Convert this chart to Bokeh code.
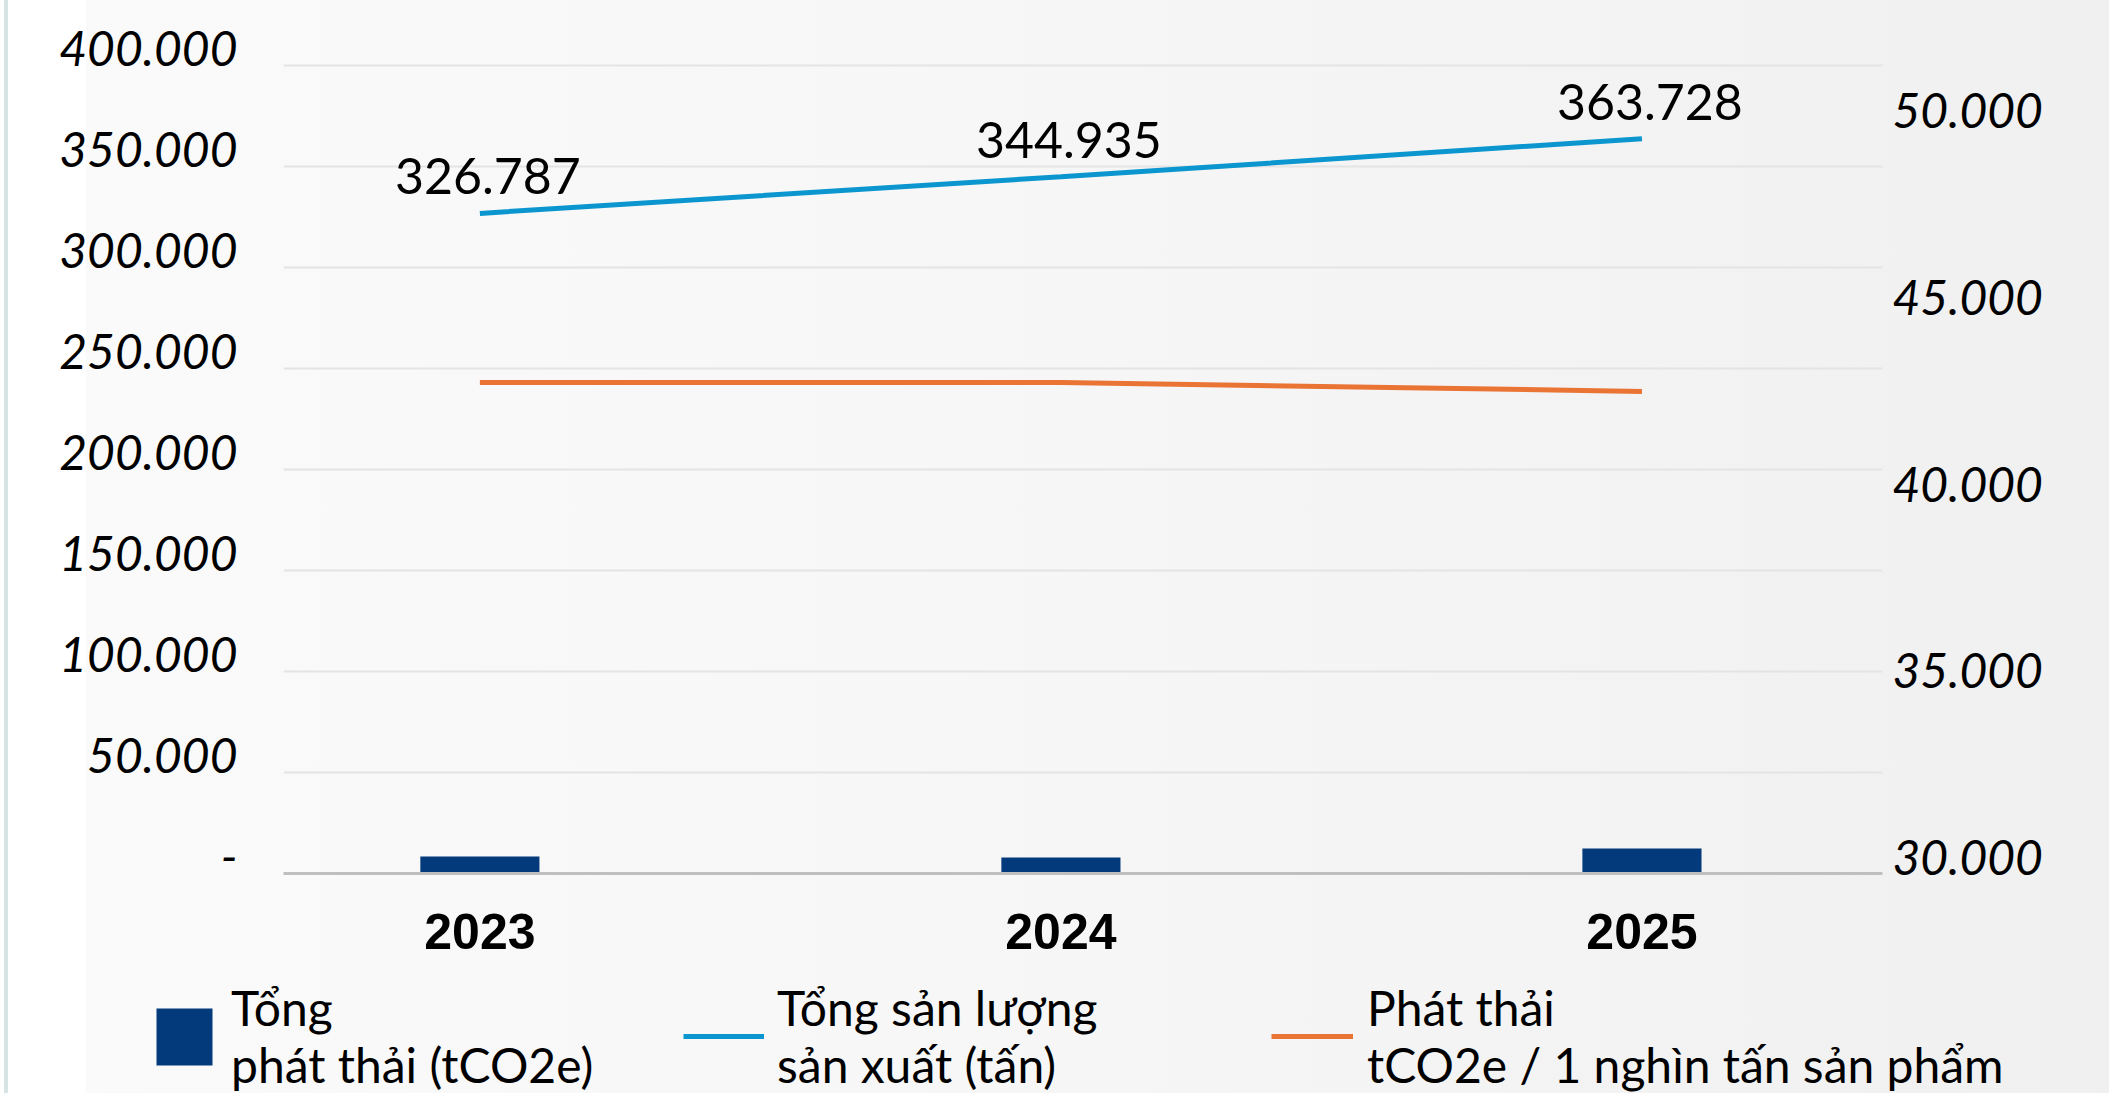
from bokeh.plotting import figure
from bokeh.layouts import column
from bokeh.models import (Range1d, LinearAxis, FixedTicker, Legend, LegendItem,
                          ColumnDataSource)
from bokeh.core.properties import value
from bokeh.embed import file_html
from bokeh.resources import INLINE

# ---------------- data ----------------
years = ["2023", "2024", "2025"]
total_emissions = [8400, 7900, 12400]            # Tổng phát thải (tCO2e) - left axis, bars
production = [326787, 344935, 363728]            # Tổng sản lượng sản xuất (tấn) - left axis
production_labels = ["326.787", "344.935", "363.728"]
intensity = [42720, 42720, 42480]                # tCO2e / 1 nghìn tấn sản phẩm - right axis

left_ticks = [0, 50000, 100000, 150000, 200000, 250000, 300000, 350000, 400000]
left_tick_labels = ["-", "50.000", "100.000", "150.000", "200.000",
                    "250.000", "300.000", "350.000", "400.000"]
right_ticks = [30000, 35000, 40000, 45000, 50000]
right_tick_labels = ["30.000", "35.000", "40.000", "45.000", "50.000"]

legend_bar = "Tổng\nphát thải (tCO2e)"
legend_prod = "Tổng sản lượng\nsản xuất (tấn)"
legend_int = "Phát thải\ntCO2e / 1 nghìn tấn sản phẩm"

# ---------------- layout constants ----------------
W, H = 2109, 1093
H1 = 965                       # chart part
FONT = "Lato"
BAR_COLOR = "#023A7C"
PROD_COLOR = "#0B96CF"
INT_COLOR = "#EA7434"

Y_MAX = 417327                 # left value range (gridlines stop at 400.000)
LBL_SHIFT = 8416               # left tick labels sit slightly above their gridlines

xs = list(range(len(years)))
src = ColumnDataSource(dict(x=xs, em=total_emissions, prod=production,
                            prod_lbl=production_labels, inten=intensity))

p = figure(width=W, height=H1, output_backend="svg", toolbar_location=None,
           x_range=Range1d(-0.338, 2.414), y_range=Range1d(0, Y_MAX),
           y_axis_location=None,
           min_border_left=283, min_border_right=227,
           min_border_top=30, min_border_bottom=H1 - 873)
p.extra_y_ranges = {"right": Range1d(29572, 52142),
                    "lbl": Range1d(-LBL_SHIFT, Y_MAX - LBL_SHIFT)}
p.border_fill_alpha = 0
p.background_fill_alpha = 0
p.outline_line_color = None
p.frame_align = False

bars = p.vbar(x="x", top="em", width=0.205, source=src,
              fill_color=BAR_COLOR, line_color=None)
prod_line = p.line(x="x", y="prod", source=src, line_width=5, line_color=PROD_COLOR)
int_line = p.line(x="x", y="inten", source=src, y_range_name="right",
                  line_width=5, line_color=INT_COLOR)

p.text(x="x", y="prod", text="prod_lbl", source=src, x_offset=8, y_offset=-37,
       text_align="center", text_baseline="middle", text_font=value(FONT),
       text_font_size="50px", text_color="#000000")


def style_value_axis(ax, standoff):
    ax.axis_line_color = None
    ax.major_tick_line_color = None
    ax.minor_tick_line_color = None
    ax.major_label_standoff = standoff
    ax.major_label_text_font = FONT
    ax.major_label_text_font_size = "48px"
    ax.major_label_text_font_style = "italic"
    ax.major_label_text_color = "#000000"


# left axis
ly = LinearAxis(y_range_name="lbl", ticker=FixedTicker(ticks=left_ticks))
ly.major_label_overrides = {t: l for t, l in zip(left_ticks, left_tick_labels)}
style_value_axis(ly, 40)
p.add_layout(ly, "left")

# right axis
ry = LinearAxis(y_range_name="right", ticker=FixedTicker(ticks=right_ticks))
ry.major_label_overrides = {t: l for t, l in zip(right_ticks, right_tick_labels)}
style_value_axis(ry, 4)
p.add_layout(ry, "right")

# x axis
xa = p.xaxis[0]
xa.ticker = FixedTicker(ticks=xs)
xa.major_label_overrides = {x: y for x, y in zip(xs, years)}
xa.axis_line_color = "#BFBFBF"
xa.axis_line_width = 3
xa.major_tick_line_color = None
xa.minor_tick_line_color = None
xa.major_label_standoff = 34
xa.major_label_text_font = "Liberation Sans"
xa.major_label_text_font_size = "50px"
xa.major_label_text_font_style = "bold"
xa.major_label_text_color = "#000000"

# grid
p.xgrid.grid_line_color = None
p.ygrid.ticker = FixedTicker(ticks=left_ticks)
p.ygrid.grid_line_color = "#E4E4E4"
p.ygrid.grid_line_width = 2

# ---------------- legend strip ----------------
lg_fig = figure(width=W, height=H - H1, output_backend="svg", toolbar_location=None,
                x_range=Range1d(-0.338, 2.414), y_range=Range1d(0, Y_MAX), min_border=0)
lg_fig.frame_align = False
lg_fig.axis.visible = False
lg_fig.grid.visible = False
lg_fig.outline_line_color = None
lg_fig.border_fill_alpha = 0
lg_fig.background_fill_alpha = 0

# key renderers (same data, not drawn in the strip; only their legend glyphs show)
k_bar = lg_fig.vbar(x="x", top="em", width=0.205, source=src,
                    fill_color=BAR_COLOR, line_color=None, visible=False)
k_prod = lg_fig.line(x="x", y="prod", source=src, line_width=5,
                     line_color=PROD_COLOR, visible=False)
k_int = lg_fig.line(x="x", y="inten", source=src, line_width=5,
                    line_color=INT_COLOR, visible=False)


def add_legend(renderer, label, x, y, gw, gh, standoff, baseline):
    lg = Legend(items=[LegendItem(label=label, renderers=[renderer])],
                location=(x, y), orientation="horizontal",
                glyph_width=gw, glyph_height=gh, label_standoff=standoff,
                label_text_font=FONT, label_text_font_size="48px",
                label_text_line_height=1.2, label_text_color="#000000",
                label_text_baseline=baseline,
                padding=0, margin=0, spacing=0, inactive_fill_alpha=0,
                border_line_color=None, background_fill_alpha=0)
    lg_fig.add_layout(lg, "center")


add_legend(k_bar, legend_bar, 149, 0, 70, 71, 12, "top")
add_legend(k_prod, legend_prod, 683, 0, 81, 84, 13, "bottom")
add_legend(k_int, legend_int, 1271, 0, 82, 84, 14, "alphabetic")

page = column(p, lg_fig, spacing=0,
              styles={"background": "linear-gradient(to right, #ffffff 0px, #ffffff 4px, "
                                    "#d6e4e3 4px, #d6e4e3 8px, #ffffff 8px, #ffffff 86px, "
                                    "#fafafa 86px, #f7f7f7 45%, #f0f0f0 100%)"})

open("out.html", "w").write(file_html(page, INLINE))
